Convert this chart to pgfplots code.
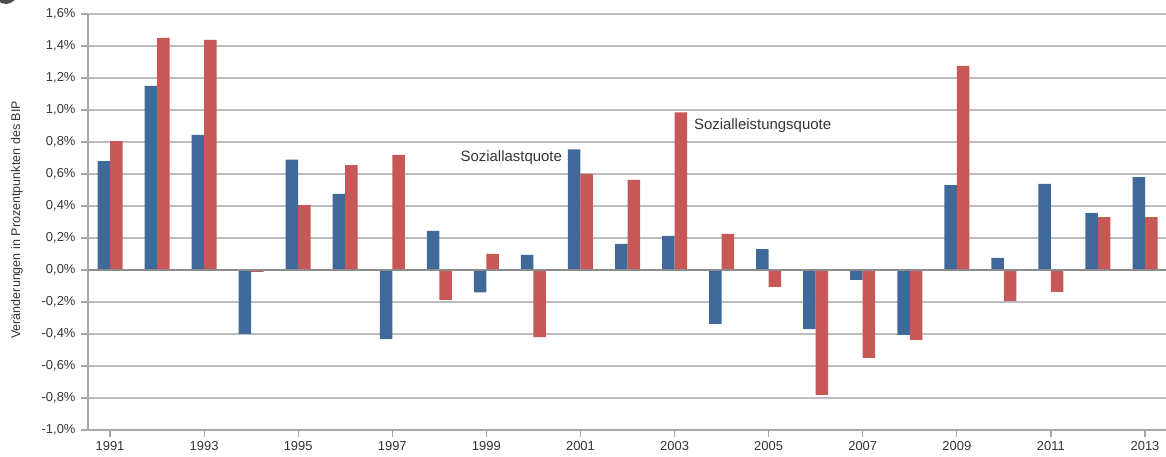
\documentclass[border=0pt]{standalone}
\usepackage{pgfplots}
\pgfplotsset{compat=1.18}
\usepackage{fontspec}
\setmainfont{Liberation Sans}
\definecolor{cblue}{HTML}{406899}
\definecolor{cred}{HTML}{C85856}
\definecolor{ctext}{HTML}{333333}
\definecolor{cgrid}{HTML}{BDBDBD}
\definecolor{caxis}{HTML}{A8A8A8}
\begin{document}
\begin{tikzpicture}
\useasboundingbox (0,0) rectangle (1166bp,457bp);
\fill[black!70] (6bp,464bp) circle (11bp);
\begin{axis}[
  at={(88bp,27bp)}, anchor=south west,
  scale only axis, width=1078bp, height=416bp,
  xmin=1990.532, xmax=2013.446,
  ymin=-1.0, ymax=1.6,
  enlarge x limits=false,
  axis x line*=bottom, axis y line*=left,
  axis line style={caxis, line width=1.3bp},
  xtick={1991,1993,...,2013},
  ytick={-1,-0.8,-0.6,-0.4,-0.2,0,0.2,0.4,0.6,0.8,1.0,1.2,1.4,1.6},
  yticklabels={{-1,0\%},{-0,8\%},{-0,6\%},{-0,4\%},{-0,2\%},{0,0\%},{0,2\%},{0,4\%},{0,6\%},{0,8\%},{1,0\%},{1,2\%},{1,4\%},{1,6\%}},
  /pgf/number format/assume math mode=true,
  /pgf/number format/set thousands separator={},
  tick align=outside, major tick length=7bp,
  tick style={caxis, line width=1.2bp},
  ymajorgrids, grid style={cgrid, line width=1.3bp},
  ticklabel style={font=\fontsize{13}{15}\selectfont, text=ctext},
  yticklabel style={xshift=-2bp},
  xticklabel style={yshift=-1bp},
  ylabel={Veränderungen in Prozentpunkten des BIP},
  ylabel style={font=\fontsize{12.6}{14}\selectfont, text=ctext, at={(axis description cs:-0.066,0.505)}, anchor=center, rotate=0},
  clip=false,
]
\addplot[ybar, bar width=12.5bp, bar shift=-6.25bp, fill=cblue, draw=none] coordinates {
(1991,0.68) (1992,1.15) (1993,0.844) (1994,-0.40) (1995,0.69) (1996,0.475)
(1997,-0.43) (1998,0.244) (1999,-0.14) (2000,0.094) (2001,0.754) (2002,0.1625)
(2003,0.2125) (2004,-0.3375) (2005,0.131) (2006,-0.369) (2007,-0.0625) (2008,-0.406)
(2009,0.531) (2010,0.075) (2011,0.5375) (2012,0.356) (2013,0.581)
};
\addplot[ybar, bar width=12.5bp, bar shift=6.25bp, fill=cred, draw=none] coordinates {
(1991,0.806) (1992,1.45) (1993,1.4375) (1994,-0.0125) (1995,0.406) (1996,0.656)
(1997,0.72) (1998,-0.1875) (1999,0.10) (2000,-0.419) (2001,0.60) (2002,0.5625)
(2003,0.985) (2004,0.225) (2005,-0.106) (2006,-0.78) (2007,-0.55) (2008,-0.4375)
(2009,1.275) (2010,-0.194) (2011,-0.1375) (2012,0.331) (2013,0.331)
};
\draw[black!45, line width=1.3bp] (axis cs:1990.532,0) -- (axis cs:2013.446,0);
\node[anchor=east, font=\fontsize{15}{17}\selectfont, text=ctext, inner sep=0pt] at (axis cs:2000.61,0.70) {Soziallastquote};
\node[anchor=west, font=\fontsize{15}{17}\selectfont, text=ctext, inner sep=0pt] at (axis cs:2003.41,0.90) {Sozialleistungsquote};
\end{axis}
\end{tikzpicture}
\end{document}
